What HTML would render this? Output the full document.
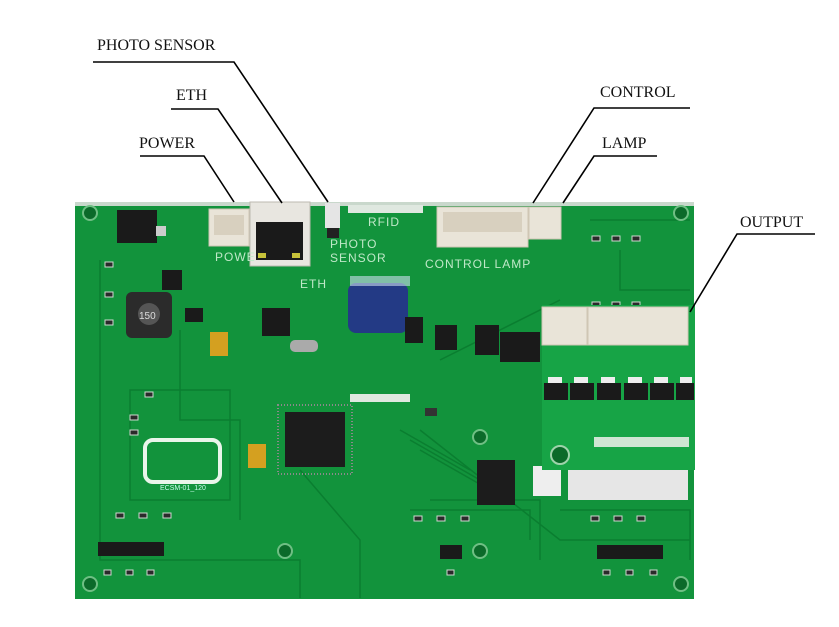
<!DOCTYPE html>
<html><head><meta charset="utf-8"><style>
html,body{margin:0;padding:0;background:#fff;width:839px;height:627px;overflow:hidden}
svg{display:block}
.t{font-family:"Liberation Serif",serif;font-size:16px;fill:#111}
.s{font-family:"Liberation Sans",sans-serif;fill:#bfe8c8;font-size:12px;letter-spacing:1px}
</style></head><body>
<svg width="839" height="627" viewBox="0 0 839 627" xmlns="http://www.w3.org/2000/svg">
<rect x="75" y="202" width="619" height="397" fill="#12933c"/>
<rect x="75" y="202" width="619" height="4" fill="#c9d8cc"/>
<g stroke="#0a7e30" stroke-width="1.5" fill="none">
<path d="M100 260 V560 H300 V598"/><path d="M180 330 V420 H240 V520"/><path d="M420 430 L560 540 H690"/>
<path d="M430 500 H540 V560"/><path d="M590 220 H690"/><path d="M620 250 V290 H690"/>
<path d="M130 390 H230 V500 H130 Z"/><path d="M560 510 H690 V560"/><path d="M410 510 H530 V540"/>
<path d="M300 470 L360 540 V598"/><path d="M440 360 L560 300"/>
<path d="M400 430 L470 470"/><path d="M410 440 L480 480"/><path d="M420 450 L490 490"/>
</g>
<g fill="#0b6a2a" stroke="#6fbf84" stroke-width="2">
<circle cx="90" cy="213" r="7"/><circle cx="681" cy="213" r="7"/><circle cx="90" cy="584" r="7"/><circle cx="681" cy="584" r="7"/>
<circle cx="285" cy="551" r="7"/><circle cx="480" cy="437" r="7"/><circle cx="480" cy="551" r="7"/><circle cx="608" cy="455" r="8"/>
</g>
<!-- small SMD parts -->
<g fill="#2a2a2a" stroke="#cfd8cf" stroke-width="1">
<rect x="105" y="262" width="8" height="5"/><rect x="105" y="292" width="8" height="5"/><rect x="105" y="320" width="8" height="5"/>
<rect x="145" y="392" width="8" height="5"/><rect x="130" y="415" width="8" height="5"/><rect x="130" y="430" width="8" height="5"/>
<rect x="116" y="513" width="8" height="5"/><rect x="139" y="513" width="8" height="5"/><rect x="163" y="513" width="8" height="5"/>
<rect x="414" y="516" width="8" height="5"/><rect x="437" y="516" width="8" height="5"/><rect x="461" y="516" width="8" height="5"/>
<rect x="591" y="516" width="8" height="5"/><rect x="614" y="516" width="8" height="5"/><rect x="637" y="516" width="8" height="5"/>
<rect x="592" y="236" width="8" height="5"/><rect x="612" y="236" width="8" height="5"/><rect x="632" y="236" width="8" height="5"/>
<rect x="592" y="302" width="8" height="5"/><rect x="612" y="302" width="8" height="5"/><rect x="632" y="302" width="8" height="5"/>
<rect x="104" y="570" width="7" height="5"/><rect x="126" y="570" width="7" height="5"/><rect x="147" y="570" width="7" height="5"/>
<rect x="447" y="570" width="7" height="5"/><rect x="603" y="570" width="7" height="5"/><rect x="626" y="570" width="7" height="5"/><rect x="650" y="570" width="7" height="5"/>
</g>
<rect x="209" y="209" width="40" height="37" fill="#e9e4d8" stroke="#cfc6b4"/>
<rect x="214" y="215" width="30" height="20" fill="#d8d0bf"/>
<rect x="250" y="202" width="60" height="64" fill="#e8e6e0" stroke="#bdb9b0"/>
<rect x="256" y="222" width="47" height="38" fill="#1a1a1a"/>
<rect x="258" y="253" width="8" height="5" fill="#c7c23a"/><rect x="292" y="253" width="8" height="5" fill="#c7c23a"/>
<rect x="325" y="203" width="15" height="25" fill="#e5e5e5"/><rect x="327" y="228" width="12" height="10" fill="#222"/>
<rect x="348" y="205" width="75" height="8" fill="#dfe8e0"/>
<rect x="437" y="207" width="91" height="40" fill="#e9e4d8" stroke="#cfc6b4"/>
<rect x="443" y="212" width="79" height="20" fill="#d8d0bf"/>
<rect x="529" y="207" width="32" height="32" fill="#e9e4d8" stroke="#cfc6b4"/>
<text x="368" y="226" class="s">RFID</text>
<text x="330" y="248" class="s">PHOTO</text><text x="330" y="262" class="s">SENSOR</text>
<text x="215" y="261" class="s">POWE</text><text x="300" y="288" class="s">ETH</text>
<text x="425" y="268" class="s">CONTROL LAMP</text>
<rect x="117" y="210" width="40" height="33" fill="#1a1a1a"/><rect x="156" y="226" width="10" height="10" fill="#ccc"/>
<rect x="126" y="292" width="46" height="46" rx="6" fill="#2b2b2b"/><circle cx="149" cy="314" r="11" fill="#555"/>
<text x="139" y="319" font-family="Liberation Sans" font-size="10" fill="#ddd">150</text>
<rect x="162" y="270" width="20" height="20" fill="#1a1a1a"/>
<rect x="185" y="308" width="18" height="14" fill="#1a1a1a"/>
<rect x="210" y="332" width="18" height="24" fill="#d4a020"/>
<rect x="248" y="444" width="18" height="24" fill="#d4a020"/>
<rect x="262" y="308" width="28" height="28" fill="#1a1a1a"/>
<rect x="285" y="412" width="60" height="55" fill="#1c1c1c"/>
<rect x="278" y="405" width="74" height="69" fill="none" stroke="#8a8a8a" stroke-width="2" stroke-dasharray="1 2"/>
<rect x="290" y="340" width="28" height="12" rx="5" fill="#aaa"/>
<rect x="145" y="440" width="75" height="42" rx="8" fill="none" stroke="#e9f5ea" stroke-width="4"/>
<text x="160" y="490" font-family="Liberation Sans" font-size="7" fill="#cfe">ECSM-01_120</text>
<rect x="348" y="283" width="60" height="50" rx="8" fill="#233a85"/>
<rect x="350" y="276" width="60" height="10" fill="#cde" opacity="0.6"/>
<rect x="405" y="317" width="18" height="26" fill="#1a1a1a"/>
<rect x="435" y="325" width="22" height="25" fill="#1a1a1a"/>
<rect x="475" y="325" width="24" height="30" fill="#1a1a1a"/>
<rect x="500" y="332" width="40" height="30" fill="#1a1a1a"/>
<rect x="350" y="394" width="60" height="8" fill="#dfe8e0"/>
<rect x="425" y="408" width="12" height="8" fill="#333"/>
<rect x="477" y="460" width="38" height="45" fill="#1c1c1c"/>
<rect x="533" y="466" width="28" height="30" fill="#eee"/>
<rect x="568" y="468" width="120" height="32" fill="#e6e6e6"/>
<rect x="542" y="305" width="153" height="165" fill="#17a446"/>
<rect x="542" y="307" width="45" height="38" fill="#e9e4d8" stroke="#cfc6b4"/>
<rect x="588" y="307" width="100" height="38" fill="#e9e4d8" stroke="#cfc6b4"/>
<g fill="#1a1a1a">
<rect x="544" y="383" width="24" height="17"/><rect x="570" y="383" width="24" height="17"/><rect x="597" y="383" width="24" height="17"/>
<rect x="624" y="383" width="24" height="17"/><rect x="650" y="383" width="24" height="17"/><rect x="676" y="383" width="18" height="17"/>
</g>
<g fill="#eee"><rect x="548" y="377" width="14" height="6"/><rect x="574" y="377" width="14" height="6"/><rect x="601" y="377" width="14" height="6"/><rect x="628" y="377" width="14" height="6"/><rect x="654" y="377" width="14" height="6"/><rect x="680" y="377" width="12" height="6"/></g>
<rect x="594" y="437" width="95" height="10" fill="#cfe5d3"/>
<circle cx="560" cy="455" r="9" fill="#0b6a2a" stroke="#9ed3ab" stroke-width="2"/>
<g fill="#1a1a1a">
<rect x="98" y="542" width="22" height="14"/><rect x="120" y="542" width="22" height="14"/><rect x="142" y="542" width="22" height="14"/>
<rect x="440" y="545" width="22" height="14"/>
<rect x="597" y="545" width="22" height="14"/><rect x="619" y="545" width="22" height="14"/><rect x="641" y="545" width="22" height="14"/>
</g>
<g stroke="#000" stroke-width="1.6" fill="none">
<path d="M93 62 H234 L328 202"/>
<path d="M171 109 H218 L282 203"/>
<path d="M140 156 H204 L234 202"/>
<path d="M690 108 H594 L533 203"/>
<path d="M657 156 H594 L563 203"/>
<path d="M815 234 H737 L690 312"/>
</g>
<text x="97" y="50" class="t">PHOTO SENSOR</text>
<text x="176" y="100" class="t">ETH</text>
<text x="139" y="148" class="t">POWER</text>
<text x="600" y="97" class="t">CONTROL</text>
<text x="602" y="148" class="t">LAMP</text>
<text x="740" y="227" class="t">OUTPUT</text>
</svg>
</body></html>
